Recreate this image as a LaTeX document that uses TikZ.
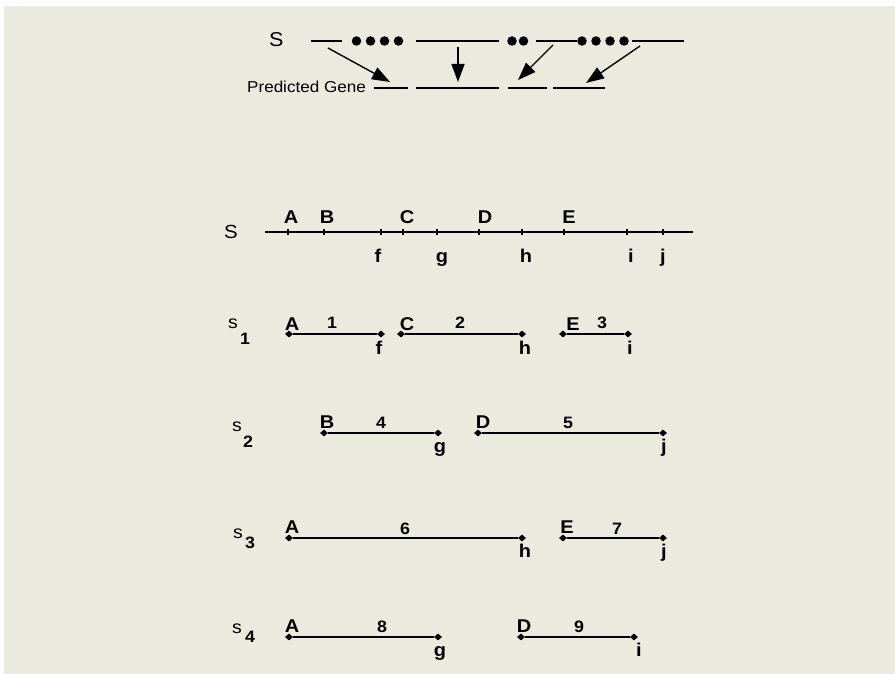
\documentclass[tikz,border=0pt]{standalone}
\usepackage{fontspec}
\setmainfont{Liberation Sans}[FakeStretch=1.08]
\usepackage{tikz}
\usetikzlibrary{shapes.geometric, arrows.meta}
\definecolor{paper}{RGB}{235,234,222}

\begin{document}
\begin{tikzpicture}[
  x=1pt, y=-1pt,
  thin seg/.style={line width=1.4pt},
  bar/.style={line width=2.4pt},
  dot/.style={circle, fill, inner sep=0pt, minimum size=9.5pt},
  tickmk/.style={rectangle, fill, inner sep=0pt, minimum width=2.4pt, minimum height=6pt},
  endmk/.style={diamond, fill, inner sep=0pt, minimum width=8pt, minimum height=7pt},
  letter/.style={anchor=base, font=\fontsize{18.5}{20}\selectfont\bfseries},
  num/.style={anchor=base, font=\fontsize{16.5}{18}\selectfont\bfseries},
  sname/.style={anchor=base, font=\fontsize{18}{18}\selectfont},
  sidx/.style={anchor=base, font=\fontsize{16.5}{18}\selectfont\bfseries},
  arrow/.style={-{Triangle[length=18pt, width=13pt]}, line width=1.4pt}
]
\useasboundingbox (0,0) rectangle (895,674);
\fill[white] (0,0) rectangle (895,674);
\fill[paper] (4,6) rectangle (895,674);

\node[anchor=base west, inner sep=0pt, font=\fontsize{20}{22}\selectfont] (topS) at (269,47) {S};
\node[anchor=base west, inner sep=0pt, font=\fontsize{15.8}{18}\selectfont] (pred) at (247,93) {Predicted Gene};

\coordinate (t1a) at (311,41);
\coordinate (t1b) at (342,41);
\coordinate (t2a) at (416,41);
\coordinate (t2b) at (499,41);
\coordinate (t3a) at (536,41);
\coordinate (t3b) at (577,41);
\coordinate (t4a) at (632,41);
\coordinate (t4b) at (684,41);
\draw[thin seg] (t1a) -- (t1b);
\draw[thin seg] (t2a) -- (t2b);
\draw[thin seg] (t3a) -- (t3b);
\draw[thin seg] (t4a) -- (t4b);

\node[dot] (d1) at (356.5,41) {};
\node[dot] (d2) at (370.5,41) {};
\node[dot] (d3) at (384.5,41) {};
\node[dot] (d4) at (398.5,41) {};
\node[dot] (d5) at (512,41) {};
\node[dot] (d6) at (523.5,41) {};
\node[dot] (d7) at (582,41) {};
\node[dot] (d8) at (596,41) {};
\node[dot] (d9) at (610,41) {};
\node[dot] (d10) at (624,41) {};

\coordinate (b1a) at (374,88);
\coordinate (b1b) at (408,88);
\coordinate (b2a) at (416,88);
\coordinate (b2b) at (499,88);
\coordinate (b3a) at (508,88);
\coordinate (b3b) at (547,88);
\coordinate (b4a) at (553,88);
\coordinate (b4b) at (605,88);
\draw[thin seg] (b1a) -- (b1b);
\draw[thin seg] (b2a) -- (b2b);
\draw[thin seg] (b3a) -- (b3b);
\draw[thin seg] (b4a) -- (b4b);

\coordinate (a1s) at (328,48);
\coordinate (a1e) at (390,82);
\coordinate (a2s) at (458,47);
\coordinate (a2e) at (458,82);
\coordinate (a3s) at (553,45);
\coordinate (a3e) at (518,80);
\coordinate (a4s) at (640,46);
\coordinate (a4e) at (586,83);
\draw[arrow] (a1s) -- (a1e);
\draw[arrow] (a2s) -- (a2e);
\draw[arrow] (a3s) -- (a3e);
\draw[arrow] (a4s) -- (a4e);

\node[anchor=base west, inner sep=0pt, font=\fontsize{19}{20}\selectfont] (midS) at (224,238) {S};
\coordinate (Sl) at (265,232);
\coordinate (Sr) at (693,232);
\draw[bar] (Sl) -- (Sr);
\node[tickmk] (tA) at (288,232) {};
\node[tickmk] (tB) at (324,232) {};
\node[tickmk] (tf) at (381,232) {};
\node[tickmk] (tC) at (403,232) {};
\node[tickmk] (tg) at (437,232) {};
\node[tickmk] (tD) at (479,232) {};
\node[tickmk] (th) at (522,232) {};
\node[tickmk] (tE) at (564,232) {};
\node[tickmk] (ti) at (627,232) {};
\node[tickmk] (tj) at (663,232) {};
\node[letter] (lA) at (291,224) {A};
\node[letter] (lB) at (327,224) {B};
\node[letter] (lC) at (407,224) {C};
\node[letter] (lD) at (485,224) {D};
\node[letter] (lE) at (569,224) {E};
\node[letter] (lf) at (378,262) {f};
\node[letter] (lg) at (442,262) {g};
\node[letter] (lh) at (526,262) {h};
\node[letter] (li) at (631,262) {i};
\node[letter] (lj) at (663,262) {j};

\node[sname] (s1) at (233,328) {s};
\node[sidx] (s1n) at (245,344) {1};
\node[endmk] (s1A) at (289,334) {};
\node[endmk] (s1f) at (381,334) {};
\node[endmk] (s1C) at (401,334) {};
\node[endmk] (s1h) at (522,334) {};
\node[endmk] (s1E) at (563,334) {};
\node[endmk] (s1i) at (628,334) {};
\draw[bar] (s1A) -- (s1f);
\draw[bar] (s1C) -- (s1h);
\draw[bar] (s1E) -- (s1i);
\node[letter] at (292,330) {A};
\node[num] at (332,328) {1};
\node[letter] at (407,330) {C};
\node[num] at (460,328) {2};
\node[letter] at (573,330) {E};
\node[num] at (602,328) {3};
\node[letter] at (379,354) {f};
\node[letter] at (525,354) {h};
\node[letter] at (630,354) {i};

\node[sname] (s2) at (237,431) {s};
\node[sidx] (s2n) at (248,447) {2};
\node[endmk] (s2B) at (324,433) {};
\node[endmk] (s2g) at (438,433) {};
\node[endmk] (s2D) at (478,433) {};
\node[endmk] (s2j) at (663,433) {};
\draw[bar] (s2B) -- (s2g);
\draw[bar] (s2D) -- (s2j);
\node[letter] at (327,428) {B};
\node[num] at (381,428) {4};
\node[letter] at (483,428) {D};
\node[num] at (568,428) {5};
\node[letter] at (440,452) {g};
\node[letter] at (664,452) {j};

\node[sname] (s3) at (238,538) {s};
\node[sidx] (s3n) at (250,548) {3};
\node[endmk] (s3A) at (289,538) {};
\node[endmk] (s3h) at (522,538) {};
\node[endmk] (s3E) at (563,538) {};
\node[endmk] (s3j) at (663,538) {};
\draw[bar] (s3A) -- (s3h);
\draw[bar] (s3E) -- (s3j);
\node[letter] at (292,533) {A};
\node[num] at (405,534) {6};
\node[letter] at (567,533) {E};
\node[num] at (617,534) {7};
\node[letter] at (525,557) {h};
\node[letter] at (664,557) {j};

\node[sname] (s4) at (237,633) {s};
\node[sidx] (s4n) at (250,642) {4};
\node[endmk] (s4A) at (289,637) {};
\node[endmk] (s4g) at (438,637) {};
\node[endmk] (s4D) at (521,637) {};
\node[endmk] (s4i) at (634,637) {};
\draw[bar] (s4A) -- (s4g);
\draw[bar] (s4D) -- (s4i);
\node[letter] at (292,632) {A};
\node[num] at (382,632) {8};
\node[letter] at (524,632) {D};
\node[num] at (579,632) {9};
\node[letter] at (440,656) {g};
\node[letter] at (639,656) {i};

\end{tikzpicture}
\end{document}
